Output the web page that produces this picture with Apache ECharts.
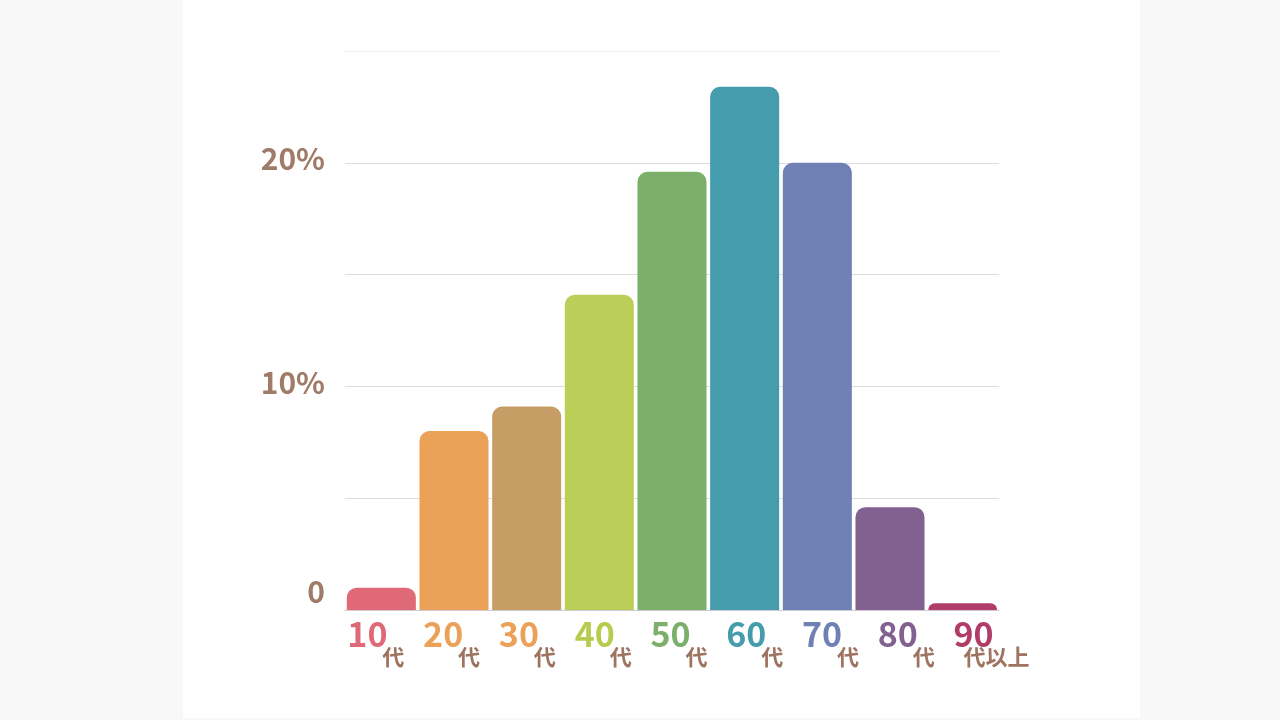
<!DOCTYPE html>
<html>
<head>
<meta charset="utf-8">
<script src="https://cdn.jsdelivr.net/npm/echarts@6/dist/echarts.min.js"></script>
<style>
html,body{margin:0;padding:0;background:#f8f8f8;width:1280px;height:720px;overflow:hidden;}
#panel{position:absolute;left:183px;top:0;width:957px;height:718px;background:#ffffff;}
#chart{width:957px;height:718px;}
</style>
</head>
<body>
<div id="panel"><div id="chart"></div></div>
<script>
// ---- data ----
const categories = ['10代', '20代', '30代', '40代', '50代', '60代', '70代', '80代', '90代以上'];
const shares = [1.0, 8.0, 9.1, 14.1, 19.6, 23.4, 20.0, 4.6, 0.3];
const yTickLabels = { 0: '0', 10: '10%', 20: '20%' };

// ---- styles ----
const barColors = ['#E06977', '#ECA158', '#C69E65', '#BBCE58', '#7BAF6A', '#449CAD', '#6F80B4', '#82608F', '#B23C68'];
const numColors = ['#E06977', '#ECA158', '#ECA158', '#B7CC4E', '#7BAF6A', '#449CAD', '#6F80B4', '#82608F', '#B23C68'];
const brown = '#A07B68';
const FONT = '"Noto Sans CJK JP", "Noto Sans", sans-serif';

const measure = document.createElement('canvas').getContext('2d');
function textWidth(t, size) {
  measure.font = 'bold ' + size + 'px ' + FONT;
  return measure.measureText(t).width;
}

const D = 100;
const rich = {};
categories.forEach((c, i) => {
  const m = c.match(/^(\d+)(.*)$/);
  const off = -34 + 3.1 * i;               // number left edge relative to category centre
  const sufGap = (i === categories.length - 1) ? 10 : 35;
  const pn = D + off;
  const ps = D + off + sufGap;
  const wn = textWidth(m[1], 34);
  const ws = textWidth(m[2], 22);
  rich['n' + i] = {
    fontFamily: FONT, fontWeight: 'bold', fontSize: 34, color: numColors[i],
    lineHeight: 24, padding: [0, Math.max(0, 2 * D - pn - wn), 0, pn]
  };
  rich['s' + i] = {
    fontFamily: FONT, fontWeight: 'bold', fontSize: 22, color: '#9E7460',
    lineHeight: 22, padding: [0, Math.max(0, 2 * D - ps - ws), 0, ps]
  };
});
rich.y = { fontFamily: FONT, fontWeight: 'bold', fontSize: 30, color: brown, padding: [0, 0, 8, 0] };
rich.z = { fontFamily: FONT, fontWeight: 'bold', fontSize: 30, color: brown, padding: [0, 0, 36, 0] };

const chart = echarts.init(document.getElementById('chart'), null, { renderer: 'canvas' });
chart.setOption({
  animation: false,
  backgroundColor: '#ffffff',
  grid: { left: 162, right: 141, top: 51, bottom: 108, containLabel: false },
  xAxis: {
    type: 'category',
    data: categories,
    axisTick: { show: false },
    axisLine: { show: true, lineStyle: { color: '#cfcbd2', width: 1 } },
    axisLabel: {
      interval: 0,
      hideOverlap: false,
      margin: 12,
      align: 'center',
      formatter: (v, i) => {
        const m = v.match(/^(\d+)(.*)$/);
        return '{n' + i + '|' + m[1] + '}\n{s' + i + '|' + m[2] + '}';
      },
      rich: rich
    }
  },
  yAxis: {
    type: 'value',
    min: 0, max: 25, interval: 5,
    axisLine: { show: false },
    axisTick: { show: false },
    splitLine: { show: true, lineStyle: { color: ['#d6d6d6', '#dcdcdc', '#dcdcdc', '#dcdcdc', '#dcdcdc', '#efefef'], width: 1 } },
    axisLabel: {
      margin: 20,
      formatter: (v) => {
        const t = yTickLabels[v];
        if (t === undefined) return '';
        return v === 0 ? '{z|' + t + '}' : '{y|' + t + '}';
      },
      rich: rich
    }
  },
  series: [{
    type: 'bar',
    data: shares.map((v, i) => ({ value: v, itemStyle: { color: barColors[i] } })),
    barCategoryGap: '5%',
    itemStyle: { borderRadius: [10, 10, 0, 0] }
  }]
});
</script>
</body>
</html>
